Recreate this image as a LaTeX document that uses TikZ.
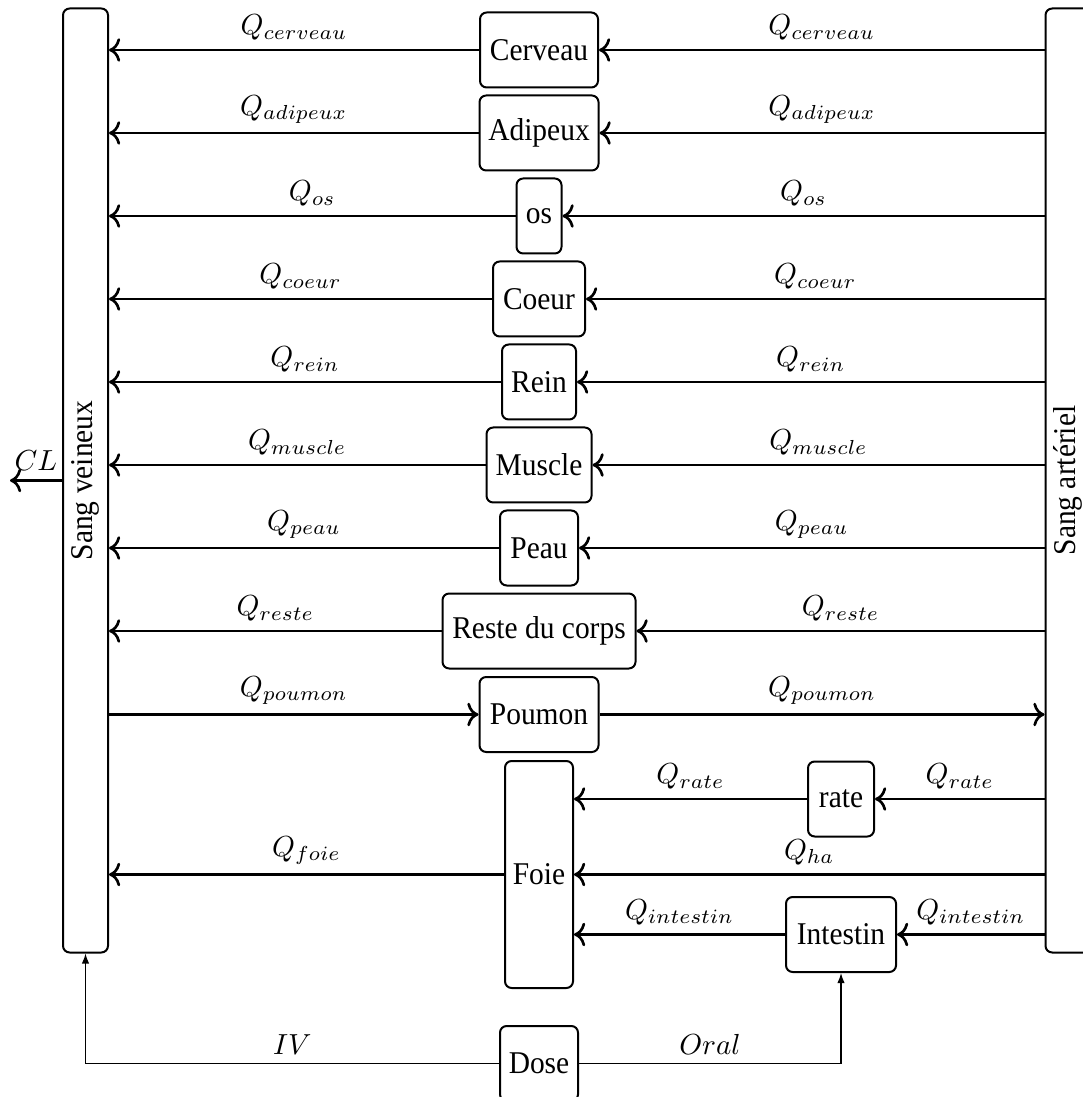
\documentclass[tikz,border=0pt]{standalone}
\usepackage{fontspec}
\setmainfont{Liberation Serif}[Scale=0.95,FakeStretch=0.93]
\usetikzlibrary{arrows.meta}
% flow labels: slightly reduced math
\newcommand{\flowlbl}[1]{\scalebox{0.87}{$#1$}}
\begin{document}
\begin{tikzpicture}[x=0.3pt,y=-0.3pt,
  box/.style={draw, line width=0.6pt, rounded corners=2pt, inner sep=0pt,
    minimum height=22.5pt, align=center},
  blood/.style={draw, line width=0.6pt, rounded corners=2pt, inner sep=0pt,
    minimum width=13.5pt, minimum height=283.2pt},
  flow/.style={->, thick},
  route/.style={-{Latex[length=3pt,width=2.2pt]}, line width=0.35pt},
  qlabel/.style={above, inner sep=2.5pt}
]
\useasboundingbox (0,0) rectangle (1082,1097);

% blood compartments
\node[blood] (sv) at (85.5,480.5) {};
\node[rotate=90] (svtext) at (sv.center) {Sang veineux};
\node[blood] (sa) at (1068,480.5) {};
\node[rotate=90] (satext) at (sa.center) {Sang artériel};

% organs
\node[box, minimum width=35.4pt] (cerveau) at (539,50)  {Cerveau};
\node[box, minimum width=35.7pt] (adipeux) at (539,133) {Adipeux};
\node[box, minimum width=13.5pt] (os)      at (539,216) {os};
\node[box, minimum width=27.6pt] (coeur)   at (539,299) {Coeur};
\node[box, minimum width=22.2pt] (rein)    at (539,382) {Rein};
\node[box, minimum width=31.5pt] (muscle)  at (539,465) {Muscle};
\node[box, minimum width=23.4pt] (peau)    at (539,548) {Peau};
\node[box, minimum width=57.9pt] (reste)   at (539,631) {Reste du corps};
\node[box, minimum width=35.7pt] (poumon)  at (539,714.5) {Poumon};
\node[box, minimum width=20.4pt, minimum height=68.1pt] (foie) at (539,874.5) {Foie};
\node[box, minimum width=19.8pt] (rate)     at (841,799) {rate};
\node[box, minimum width=33pt]   (intestin) at (841,934.5) {Intestin};
\node[box, minimum width=23.4pt] (dose)     at (539,1063.5) {Dose};

% systemic flows: arterial -> organ -> venous
\foreach \n in {cerveau,adipeux,os,coeur,rein,muscle,peau,reste}{
  \draw[flow] (\n.west) -- (\n.west -| sv.east) node[midway, qlabel] {\flowlbl{Q_{\n}}};
  \draw[flow] (\n.east -| sa.west) -- (\n.east) node[midway, qlabel] {\flowlbl{Q_{\n}}};
}

% pulmonary circulation
\draw[flow] (poumon.west -| sv.east) -- (poumon.west) node[midway, qlabel] {\flowlbl{Q_{poumon}}};
\draw[flow] (poumon.east) -- (poumon.east -| sa.west) node[midway, qlabel] {\flowlbl{Q_{poumon}}};

% hepatic circulation
\draw[flow] (rate.west) -- (rate.west -| foie.east) node[midway, qlabel] {\flowlbl{Q_{rate}}};
\draw[flow] (rate.east -| sa.west) -- (rate.east) node[midway, qlabel] {\flowlbl{Q_{rate}}};
\draw[flow] (foie.east -| sa.west) -- (foie.east) node[midway, qlabel] {\flowlbl{Q_{ha}}};
\draw[flow] (intestin.west) -- (intestin.west -| foie.east) node[midway, qlabel] {\flowlbl{Q_{intestin}}};
\draw[flow] (intestin.east -| sa.west) -- (intestin.east) node[midway, qlabel] {\flowlbl{Q_{intestin}}};
\draw[flow] (foie.west) -- (foie.west -| sv.east) node[midway, qlabel] {\flowlbl{Q_{foie}}};

% clearance
\coordinate (clend) at (10,480.5);
\draw[flow] (sv.west) -- (clend) node[midway, qlabel] {\flowlbl{CL}};

% administration routes
\draw[route] (dose.west) -| (sv.south) node[pos=0.25, qlabel] {\flowlbl{IV}};
\draw[route] (dose.east) -| (intestin.south) node[pos=0.25, qlabel] {\flowlbl{Oral}};
\end{tikzpicture}
\end{document}
